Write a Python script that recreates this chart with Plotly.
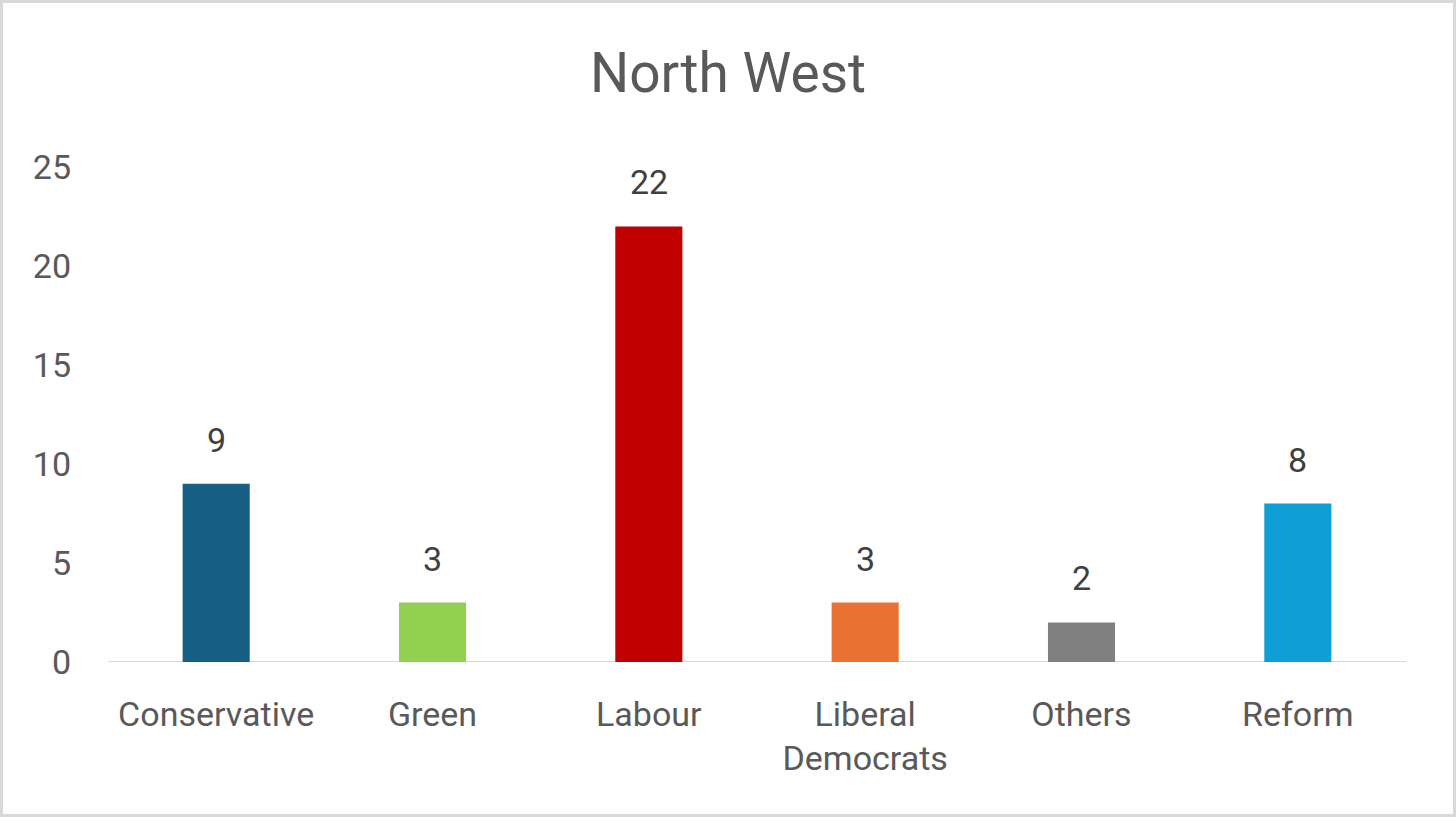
import plotly.graph_objects as go

categories = ["Conservative", "Green", "Labour", "Liberal<br>Democrats", "Others", "Reform"]
values = [9, 3, 22, 3, 2, 8]
colors = ["#165E83", "#92D050", "#C00000", "#E97132", "#808080", "#0F9ED5"]
y_ticks = [0, 5, 10, 15, 20, 25]

W, H = 1456, 817
ml, mr, mt, mb = 108, 50, 167, 155
pw, ph = W - ml - mr, H - mt - mb

fig = go.Figure()
fig.add_trace(go.Bar(
    x=categories, y=values,
    marker=dict(color=colors, line=dict(width=0)),
    width=0.31,
    hoverinfo="x+y",
))

for c, v in zip(categories, values):
    fig.add_annotation(x=c, y=v, text=str(v), showarrow=False,
                       yanchor="bottom", yshift=22,
                       font=dict(size=34, color="#404040", family="Roboto"))

fig.add_shape(type="line", xref="paper", yref="y", x0=0, x1=1, y0=0, y1=0,
              line=dict(color="#D9D9D9", width=2), layer="below")

# outer border
fig.add_shape(type="rect", xref="paper", yref="paper",
              x0=(-ml + 1.5) / pw, x1=(pw + mr - 1.5) / pw,
              y0=(-mb + 1.5) / ph, y1=(ph + mt - 1.5) / ph,
              line=dict(color="#D9D9D9", width=3))

fig.update_layout(
    width=W, height=H,
    margin=dict(l=ml, r=mr, t=mt, b=mb),
    paper_bgcolor="white", plot_bgcolor="white",
    title=dict(text="North West", x=0.5, xanchor="center", y=1 - 73 / H, yanchor="middle",
               font=dict(size=55, color="#595959", family="Roboto")),
    font=dict(family="Roboto", color="#595959", size=34),
    showlegend=False,
    xaxis=dict(showgrid=False, showline=False, zeroline=False, ticks="",
               tickfont=dict(size=34, color="#595959"), ticklabelstandoff=29),
    yaxis=dict(range=[0, 25], tickvals=y_ticks, showgrid=False, zeroline=False,
               showline=False, ticks="", tickfont=dict(size=34, color="#595959"),
               ticklabelstandoff=36),
)

fig.write_html("out.html", config={"displayModeBar": False},
               post_script="document.body.style.margin='0';")
